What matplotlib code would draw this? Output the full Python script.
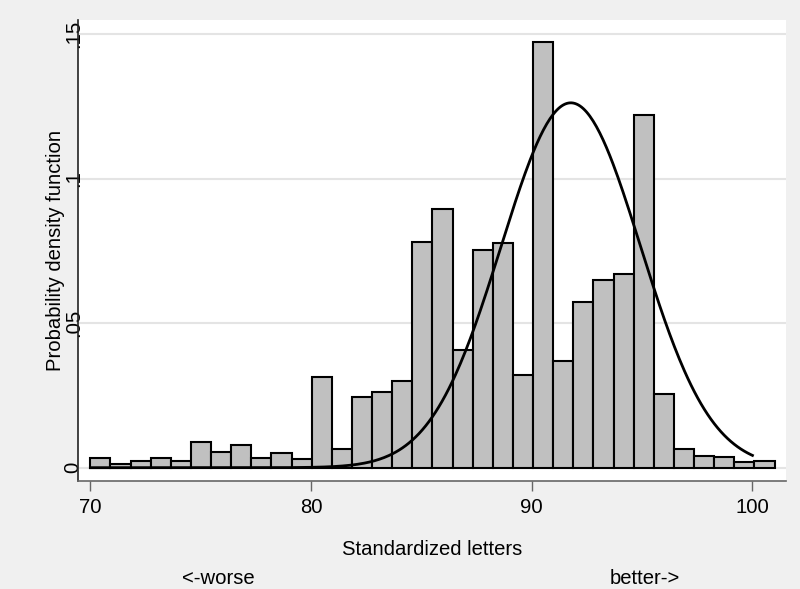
import numpy as np
import matplotlib
matplotlib.use("Agg")
import matplotlib.pyplot as plt

plt.rcParams['font.family'] = ['Liberation Sans', 'DejaVu Sans']

# Histogram data (density per bin)
bin_start = 70.0
bin_end = 101.0
densities = [0.0034, 0.0013, 0.0024, 0.0034, 0.0024, 0.0089, 0.0054, 0.0080,
             0.0033, 0.0050, 0.0030, 0.0314, 0.0064, 0.0246, 0.0263, 0.0301,
             0.0781, 0.0895, 0.0407, 0.0752, 0.0777, 0.0321, 0.1473, 0.0368,
             0.0572, 0.0648, 0.0670, 0.1219, 0.0255, 0.0064, 0.0042, 0.0038,
             0.0021, 0.0024]
# Normal overlay parameters
norm_mean = 91.77
norm_sd = 3.16
curve_range = (70.0, 100.0)

x_ticks = [70, 80, 90, 100]
y_ticks = [0, 0.05, 0.10, 0.15]
y_ticklabels = ["0", ".05", ".1", ".15"]

FS = 14.6

fig = plt.figure(figsize=(8.0, 5.89), dpi=100)
fig.patch.set_facecolor('#f0f0f0')
ax = fig.add_axes([0.0975, 0.1834, 0.885, 0.7826])
ax.set_facecolor('white')

n = len(densities)
edges = np.linspace(bin_start, bin_end, n + 1)
width = edges[1] - edges[0]
ax.bar(edges[:-1], densities, width=width, align='edge', color='#c0c0c0',
       edgecolor='black', linewidth=1.5, zorder=3)

xs = np.linspace(curve_range[0], curve_range[1], 400)
ys = np.exp(-0.5 * ((xs - norm_mean) / norm_sd) ** 2) / (norm_sd * np.sqrt(2 * np.pi))
ax.plot(xs, ys, color='black', linewidth=2.0, zorder=4)

ax.set_xlim(69.44, 101.52)
ax.set_ylim(-0.0046, 0.1549)

ax.set_yticks(y_ticks)
ax.set_yticklabels(y_ticklabels, rotation=90, ha='center', va='center', fontsize=FS)
ax.set_xticks(x_ticks)
ax.set_xticklabels([str(t) for t in x_ticks], fontsize=FS)
ax.grid(axis='y', color='#e4e4e4', linewidth=1.5, zorder=0)
ax.set_axisbelow(True)

for s in ['top', 'right']:
    ax.spines[s].set_visible(False)
ax.spines['left'].set_color('#222222')
ax.spines['bottom'].set_color('#666666')
ax.spines['left'].set_linewidth(1.2)
ax.spines['bottom'].set_linewidth(1.2)
ax.tick_params(axis='x', length=7, width=1.0, color='#666666', pad=5)
ax.tick_params(axis='y', length=0, pad=3.5)

ax.set_xlabel('Standardized letters', fontsize=FS, labelpad=17)
ax.set_ylabel('Probability density function', fontsize=FS, labelpad=-1)

fig.text(218 / 800, 1 - 578 / 589, '<-worse', fontsize=FS, ha='center', va='center')
fig.text(645 / 800, 1 - 578 / 589, 'better->', fontsize=FS, ha='center', va='center')

fig.savefig('out.png', dpi=100, facecolor=fig.get_facecolor())
